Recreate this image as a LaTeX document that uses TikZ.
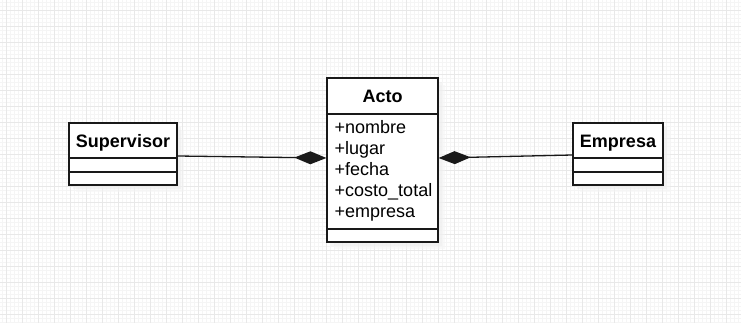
\documentclass[tikz,border=0pt]{standalone}
\usepackage{fontspec}
\setmainfont{Liberation Sans}
\usetikzlibrary{arrows.meta,shadows}

\tikzset{
  gridminor/.style={draw=black!4, line width=0.5pt},
  gridmajor/.style={draw=black!9, line width=0.8pt},
  classbox/.style={draw=black!90, line width=1.3pt, fill=white,
    drop shadow={shadow xshift=7pt, shadow yshift=-7pt, fill=black!4},
    drop shadow={shadow xshift=4pt, shadow yshift=-4pt, fill=black!7}},
  divider/.style={draw=black!90, line width=1.3pt},
  classname/.style={font=\bfseries\fontsize{18}{21}\selectfont, anchor=base, inner sep=0pt},
  attr/.style={font=\fontsize{18}{21}\selectfont, anchor=base west, inner sep=0pt},
  comp/.style={draw=black!90, line width=1.3pt, -{Diamond[length=32pt,width=13pt]}},
}

\begin{document}
\begin{tikzpicture}[x=1pt, y=-1pt]
  %%%%% grid %%%%%
  \useasboundingbox[fill=white] (0,0) rectangle (741,323);
  \foreach \x in {2.5,6.5,...,741} \draw[gridminor] (\x,0) -- (\x,323);
  \foreach \y in {2,6,...,323} \draw[gridminor] (0,\y) -- (741,\y);
  \foreach \x in {6.5,22.5,...,741} \draw[gridmajor] (\x,0) -- (\x,323);
  \foreach \y in {10,26,...,323} \draw[gridmajor] (0,\y) -- (741,\y);

  %%%%% Supervisor %%%%%
  \node[classbox, minimum width=108pt, minimum height=62pt] (supervisor) at (123,154) {};
  \node[classname] (supervisor-name) at (123,147.5) {Supervisor};
  \draw[divider] (supervisor.west |- 0,158) -- (supervisor.east |- 0,158);
  \draw[divider] (supervisor.west |- 0,172) -- (supervisor.east |- 0,172);

  %%%%% Acto %%%%%
  \node[classbox, minimum width=111pt, minimum height=164pt] (acto) at (382.5,160) {};
  \node[classname] (acto-name) at (382.5,102.5) {Acto};
  \draw[divider] (acto.west |- 0,114) -- (acto.east |- 0,114);
  \draw[divider] (acto.west |- 0,229) -- (acto.east |- 0,229);
  \foreach \a [count=\i from 0] in {nombre,lugar,fecha,costo\_total,empresa}
    \node[attr] (acto-attr-\i) at (334.5,133.3+21*\i) {+\a};

  %%%%% Empresa %%%%%
  \node[classbox, minimum width=90pt, minimum height=62pt] (empresa) at (618,154) {};
  \node[classname] (empresa-name) at (618,147.5) {Empresa};
  \draw[divider] (empresa.west |- 0,158) -- (empresa.east |- 0,158);
  \draw[divider] (empresa.west |- 0,172) -- (empresa.east |- 0,172);

  %%%%% composition %%%%%
  \draw[comp] ([yshift=-2pt]supervisor.east) -- ([yshift=2pt]acto.west);
  \draw[comp] ([yshift=-1pt]empresa.west) -- ([yshift=2pt]acto.east);
\end{tikzpicture}
\end{document}
